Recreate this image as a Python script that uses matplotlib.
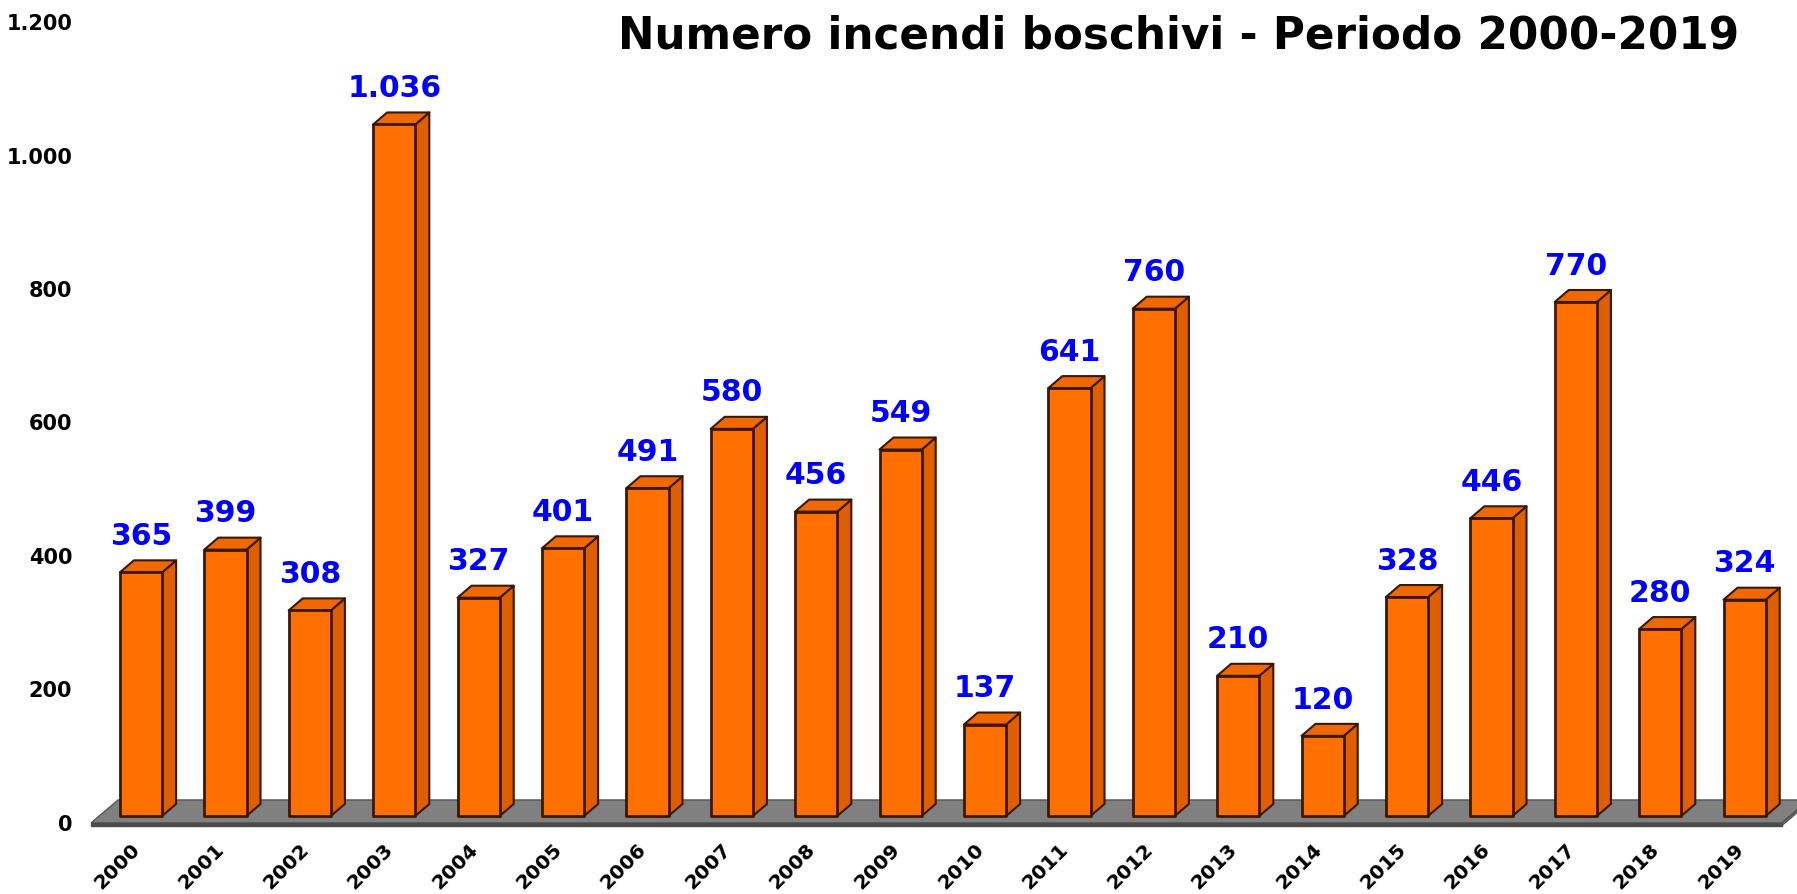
import matplotlib.pyplot as plt
from matplotlib.patches import Polygon
from matplotlib.transforms import ScaledTranslation

# data
anni = ['2000', '2001', '2002', '2003', '2004', '2005', '2006', '2007', '2008', '2009',
        '2010', '2011', '2012', '2013', '2014', '2015', '2016', '2017', '2018', '2019']
incendi = [365, 399, 308, 1036, 327, 401, 491, 580, 456, 549,
           137, 641, 760, 210, 120, 328, 446, 770, 280, 324]
etichette = ['365', '399', '308', '1.036', '327', '401', '491', '580', '456', '549',
             '137', '641', '760', '210', '120', '328', '446', '770', '280', '324']
y_ticks = [0, 200, 400, 600, 800, 1000, 1200]
y_tick_labels = ['0', '200', '400', '600', '800', '1.000', '1.200']
titolo = 'Numero incendi boschivi - Periodo 2000-2019'

W, H, DPI = 1797, 894, 100
fig = plt.figure(figsize=(W / DPI, H / DPI), dpi=DPI)
# axes placed so that one category = 84.4 px and 200 units = 133.5 px
ax = fig.add_axes([90.36 / W, 68 / H, 1709.1 / W, 821 / H])
ax.set_xlim(-0.6, 19.65)
ax.set_ylim(-15, 1215)

front_c = '#ff7000'
side_c = '#df5e00'
top_c = '#ef6800'
edge_c = '#3a1800'

hw = 0.25      # half width of the bar front
dx = 0.166     # depth offset in x units
dy = 18        # depth offset in y units

# floor
fy0, fy1 = -10.5, 24
fx0, fx1 = -0.592, 19.44
fdx = 0.32
ax.add_patch(Polygon([(fx0, fy0), (fx1, fy0), (fx1 + fdx, fy1), (fx0 + fdx, fy1)],
                     closed=True, facecolor='#808080', edgecolor='#555555', lw=1,
                     clip_on=False, zorder=1))
ax.add_patch(Polygon([(fx0, fy0), (fx1, fy0), (fx1, fy0 - 4), (fx0, fy0 - 4)],
                     closed=True, facecolor='#4a4a4a', edgecolor='#4a4a4a', lw=1,
                     clip_on=False, zorder=1))
ax.add_patch(Polygon([(fx1, fy0), (fx1 + fdx, fy1), (fx1 + fdx, fy1 - 4), (fx1, fy0 - 4)],
                     closed=True, facecolor='#6a6a6a', edgecolor='#555555', lw=1,
                     clip_on=False, zorder=1))

for i, v in enumerate(incendi):
    x0, x1 = i - hw, i + hw
    side = [(x1, 0), (x1 + dx, dy), (x1 + dx, v + dy), (x1, v)]
    top = [(x0, v), (x1, v), (x1 + dx, v + dy), (x0 + dx, v + dy)]
    front = [(x0, 0), (x1, 0), (x1, v), (x0, v)]
    ax.add_patch(Polygon(side, closed=True, facecolor=side_c, edgecolor=edge_c,
                         lw=1.5, joinstyle='round', zorder=2))
    ax.add_patch(Polygon(top, closed=True, facecolor=top_c, edgecolor=edge_c,
                         lw=1.5, joinstyle='round', zorder=2))
    ax.add_patch(Polygon(front, closed=True, facecolor=front_c, edgecolor=edge_c,
                         lw=2, joinstyle='round', zorder=3))
    ax.text(i, v + dy + 14, etichette[i], ha='center', va='bottom', color='#0000ff',
            fontsize=21.5, fontweight='bold', zorder=4)

for s in ax.spines.values():
    s.set_visible(False)

ax.set_yticks(y_ticks)
ax.set_yticklabels(y_tick_labels, fontsize=15, fontweight='bold')
ax.tick_params(axis='y', length=0, pad=13)
for lab in ax.get_yticklabels():
    lab.set_transform(lab.get_transform() + ScaledTranslation(0, -7 / DPI, fig.dpi_scale_trans))

ax.set_xticks(range(len(anni)))
ax.set_xticklabels(anni, fontsize=14.5, fontweight='bold', rotation=45,
                   ha='right', va='center', rotation_mode='anchor')
ax.tick_params(axis='x', length=0, pad=15)
for lab in ax.get_xticklabels():
    lab.set_transform(lab.get_transform() + ScaledTranslation(-4 / DPI, 0, fig.dpi_scale_trans))

fig.text(1739 / W, 1 - 36 / H, titolo, ha='right', va='center',
         fontsize=31.5, fontweight='bold')

fig.savefig('out.png', dpi=DPI)
